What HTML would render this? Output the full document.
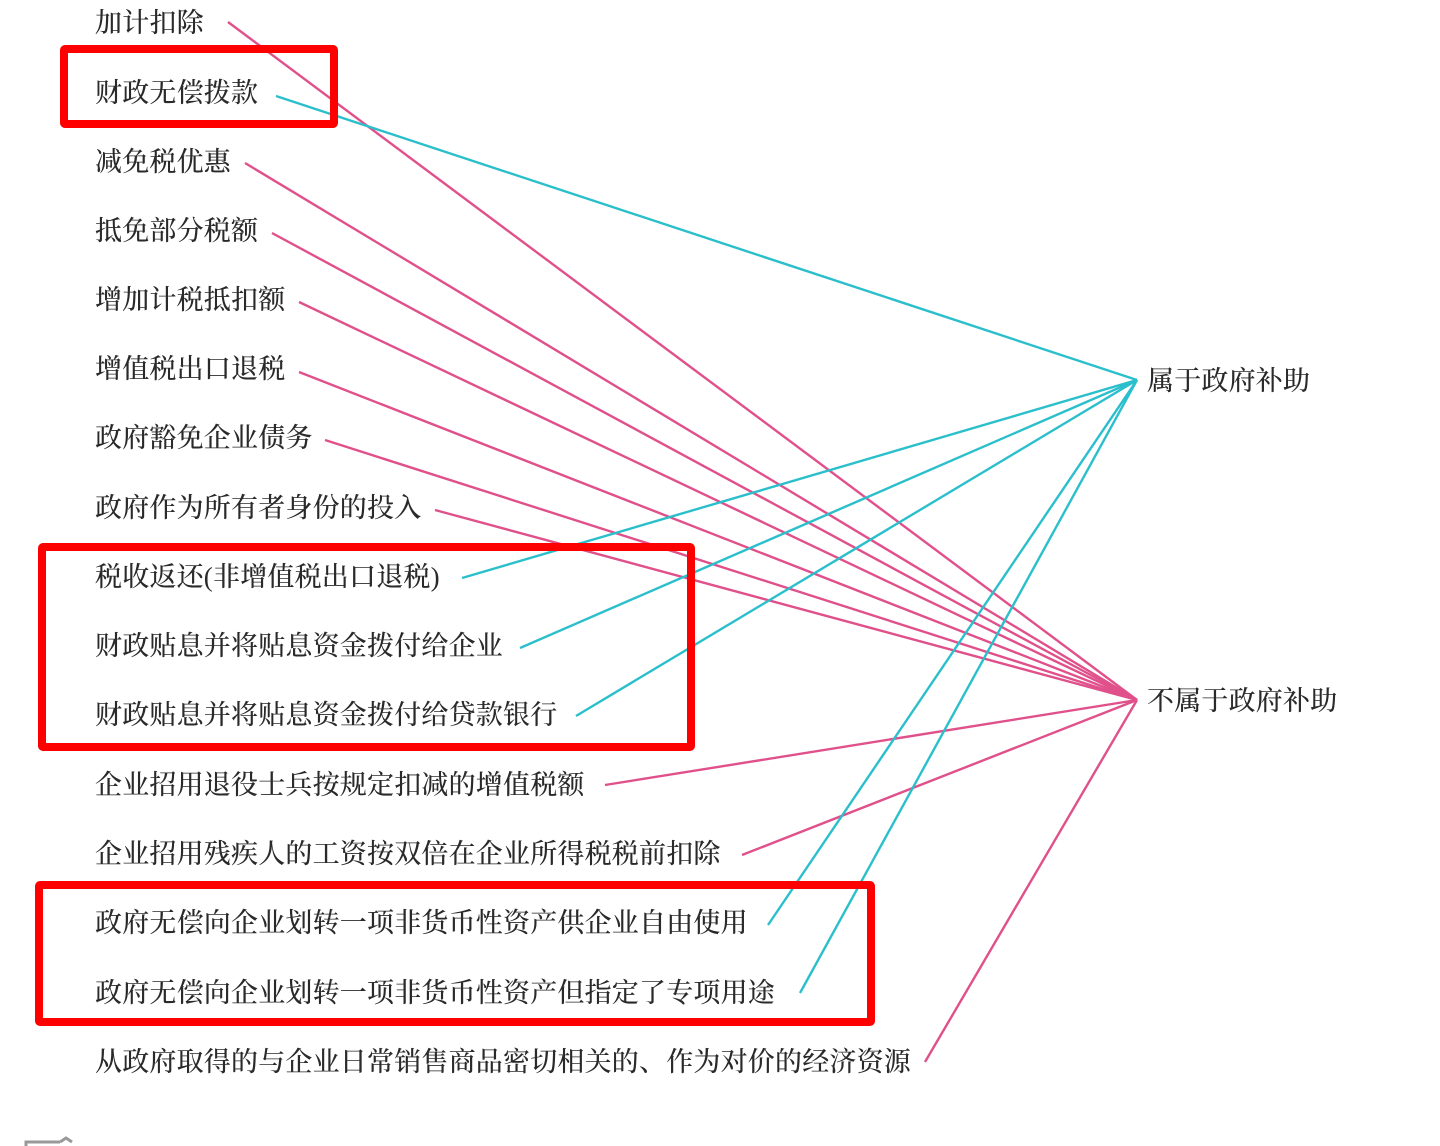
<!DOCTYPE html>
<html><head><meta charset="utf-8"><style>
body{margin:0;width:1440px;height:1146px;background:#fff;overflow:hidden;position:relative;font-family:"Liberation Serif","Noto Serif CJK SC",serif;}
.t{position:absolute;left:95px;font-size:27px;letter-spacing:0.2px;color:#2a2a2a;line-height:30px;white-space:nowrap;font-weight:500;}
.r{position:absolute;border:8px solid #f00;border-radius:5px;box-sizing:border-box;}
svg{position:absolute;left:0;top:0}
</style></head><body>
<svg width="1440" height="1146">
<g stroke="#e0508a" stroke-width="2.4" fill="none">
<line x1="228" y1="22" x2="1137" y2="700"/>
<line x1="245" y1="163" x2="1137" y2="700"/>
<line x1="272" y1="233" x2="1137" y2="700"/>
<line x1="299" y1="302" x2="1137" y2="700"/>
<line x1="299" y1="372" x2="1137" y2="700"/>
<line x1="325" y1="440" x2="1137" y2="700"/>
<line x1="435" y1="510" x2="1137" y2="700"/>
<line x1="605" y1="785" x2="1137" y2="700"/>
<line x1="742" y1="855" x2="1137" y2="700"/>
<line x1="925" y1="1062" x2="1137" y2="700"/>
</g>
<g stroke="#2bbfcc" stroke-width="2.4" fill="none">
<line x1="276" y1="96" x2="1137" y2="380"/>
<line x1="462" y1="578" x2="1137" y2="380"/>
<line x1="520" y1="648" x2="1137" y2="380"/>
<line x1="576" y1="716" x2="1137" y2="380"/>
<line x1="768" y1="925" x2="1137" y2="380"/>
<line x1="800" y1="993" x2="1137" y2="380"/>
</g>
<path d="M26 1146 V1142 H60 M60 1142 l6 -4 l6 4" stroke="#999" stroke-width="3" fill="none"/>
</svg>
<div class="t" style="top:8px">加计扣除</div>
<div class="t" style="top:78px">财政无偿拨款</div>
<div class="t" style="top:147px">减免税优惠</div>
<div class="t" style="top:216px">抵免部分税额</div>
<div class="t" style="top:285px">增加计税抵扣额</div>
<div class="t" style="top:354px">增值税出口退税</div>
<div class="t" style="top:423px">政府豁免企业债务</div>
<div class="t" style="top:493px">政府作为所有者身份的投入</div>
<div class="t" style="top:562px">税收返还(非增值税出口退税)</div>
<div class="t" style="top:631px">财政贴息并将贴息资金拨付给企业</div>
<div class="t" style="top:700px">财政贴息并将贴息资金拨付给贷款银行</div>
<div class="t" style="top:770px">企业招用退役士兵按规定扣减的增值税额</div>
<div class="t" style="top:839px">企业招用残疾人的工资按双倍在企业所得税税前扣除</div>
<div class="t" style="top:908px">政府无偿向企业划转一项非货币性资产供企业自由使用</div>
<div class="t" style="top:978px">政府无偿向企业划转一项非货币性资产但指定了专项用途</div>
<div class="t" style="top:1047px">从政府取得的与企业日常销售商品密切相关的、作为对价的经济资源</div>
<div class="t" style="left:1147px;top:366px">属于政府补助</div>
<div class="t" style="left:1147px;top:686px">不属于政府补助</div>
<div class="r" style="left:60px;top:45px;width:278px;height:83px"></div>
<div class="r" style="left:38px;top:543px;width:657px;height:208px"></div>
<div class="r" style="left:35px;top:881px;width:840px;height:145px"></div>
</body></html>
